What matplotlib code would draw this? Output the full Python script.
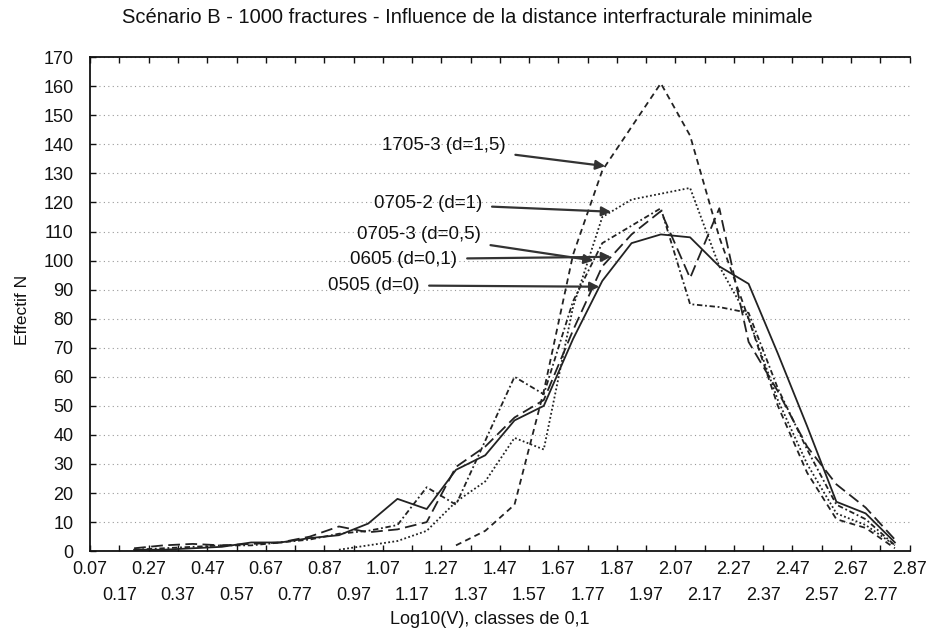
import numpy as np
import matplotlib
matplotlib.use('Agg')
import matplotlib.pyplot as plt

plt.rcParams['font.family'] = ['Liberation Sans', 'DejaVu Sans']

nan = np.nan

# class boundaries (tick labels) and class centres (where the counts sit)
class_edges = [0.07, 0.17, 0.27, 0.37, 0.47, 0.57, 0.67, 0.77, 0.87, 0.97,
               1.07, 1.17, 1.27, 1.37, 1.47, 1.57, 1.67, 1.77, 1.87, 1.97,
               2.07, 2.17, 2.27, 2.37, 2.47, 2.57, 2.67, 2.77, 2.87]
class_centres = [0.12, 0.22, 0.32, 0.42, 0.52, 0.62, 0.72, 0.82, 0.92, 1.02,
                 1.12, 1.22, 1.32, 1.42, 1.52, 1.62, 1.72, 1.82, 1.92, 2.02,
                 2.12, 2.22, 2.32, 2.42, 2.52, 2.62, 2.72, 2.82]

n_0505 = [nan, 0.5, 0.5, 1, 1.5, 3, 3, 4.5, 5.5, 9.5, 18, 14.5, 28, 33, 45, 50,
          73, 93, 106, 109, 108, 98, 92, 68, 43, 17, 13, 3]
n_0605 = [nan, 1, 2, 2.5, 2, 2.5, 3, 5, 8.5, 6.5, 7.5, 10, 29, 36, 46, 52,
          76, 98, 109, 117, 94, 118, 72, 55, 36, 23, 15, 4]
n_0705_3 = [nan, 0.5, 1, 1.5, 2, 2, 3, 4, 6, 7, 9, 22, 16, 38, 60, 54,
            86, 106, 112, 118, 85, 84, 82, 56, 35, 16, 11, 2]
n_0705_2 = [nan, nan, nan, nan, nan, nan, nan, nan, 0.5, 2, 3.5, 7, 17, 24, 39, 35,
            84, 115, 121, 123, 125, 98, 80, 52, 30, 13, 9, 2]
n_1705_3 = [nan, nan, nan, nan, nan, nan, nan, nan, nan, nan, nan, nan, 2, 7, 16, 55,
            102, 131, 146, 161, 143, 108, 80, 50, 27, 11, 8, 1]

series = [
    ('0505 (d=0)', n_0505, '-', 1.81),
    ('0605 (d=0,1)', n_0605, (0, (6.5, 3)), 1.85),
    ('0705-3 (d=0,5)', n_0705_3, (0, (3, 1.5, 1, 1.5)), 1.79),
    ('0705-2 (d=1)', n_0705_2, (0, (1, 1.3)), 1.85),
    ('1705-3 (d=1,5)', n_1705_3, (0, (3.3, 2.4)), 1.83),
]

# label anchor (right end of text) for each curve
label_pos = {
    '1705-3 (d=1,5)': (1.49, 139.5),
    '0705-2 (d=1)': (1.41, 119.5),
    '0705-3 (d=0,5)': (1.405, 109),
    '0605 (d=0,1)': (1.325, 100.5),
    '0505 (d=0)': (1.195, 91.5),
}

fig = plt.figure(figsize=(9.3, 6.35), dpi=100)
ax = fig.add_axes([0.097, 0.132, 0.881, 0.778])

x = np.array(class_centres)
for name, n, ls, tip in series:
    y = np.array(n, dtype=float)
    ax.plot(x, y, color='#222222', lw=1.3, ls=ls)
    ok = ~np.isnan(y)
    ty = np.interp(tip, x[ok], y[ok])
    ax.annotate(name, xy=(tip, ty), xytext=label_pos[name],
                ha='right', va='center', fontsize=13.5, color='#111111',
                arrowprops=dict(arrowstyle='-|>', color='#333333', lw=1.6,
                                shrinkA=5, shrinkB=0, mutation_scale=14))

ax.set_xlim(0.07, 2.87)
ax.set_ylim(0, 170)
# staggered x labels: even boundaries on the first row, odd ones below
ax.set_xticks(class_edges[::2])
ax.set_xticklabels([f'{v:.2f}' for v in class_edges[::2]])
ax.set_xticks(class_edges[1::2], minor=True)
ax.set_xticklabels([f'{v:.2f}' for v in class_edges[1::2]], minor=True)
ax.set_yticks(range(0, 171, 10))
ax.tick_params(which='both', direction='in', top=True, length=4, width=1,
               labelsize=13, colors='#111111')
ax.tick_params(axis='x', which='major', pad=7)
ax.tick_params(axis='x', which='minor', pad=26)
ax.tick_params(axis='y', pad=12)
ax.yaxis.grid(True, ls=(0, (1, 3)), color='#999999', lw=0.8)
ax.spines['right'].set_visible(False)
for s in ('left', 'bottom', 'top'):
    ax.spines[s].set_linewidth(1.3)
    ax.spines[s].set_color('#111111')

fig.text(0.502, 0.972, 'Scénario B - 1000 fractures - Influence de la distance interfracturale minimale',
         ha='center', va='center', fontsize=14.5, color='#111111')
fig.text(0.527, 0.024, 'Log10(V), classes de 0,1', ha='center', va='center',
         fontsize=13, color='#111111')
fig.text(0.024, 0.512, 'Effectif N', ha='center', va='center', rotation=90,
         fontsize=12.5, color='#111111')

fig.savefig('out.png', dpi=100)
